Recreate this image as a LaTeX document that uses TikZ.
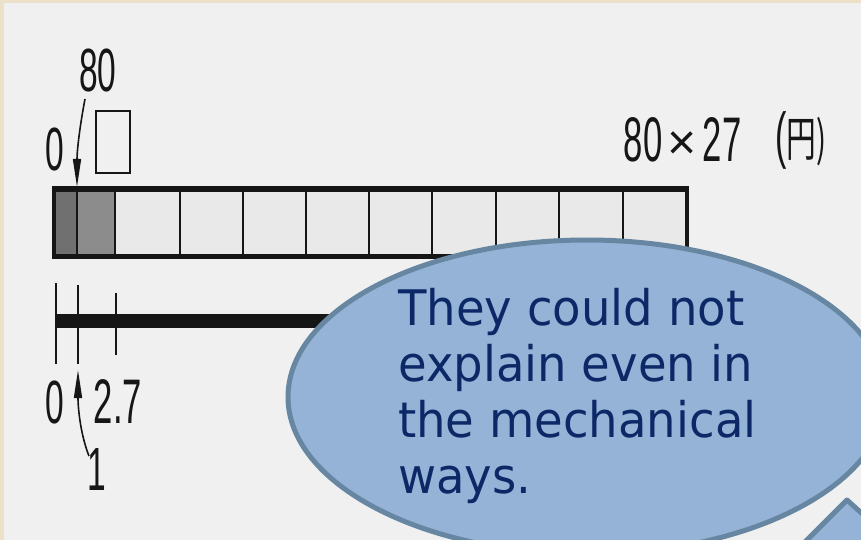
\documentclass[tikz,border=0pt]{standalone}
\usepackage{fontspec}
\setmainfont{Liberation Sans}
\newfontfamily\callfont[FakeStretch=0.95]{DejaVu Sans}
\newfontfamily\scanfont[FakeStretch=0.55]{Liberation Sans}
\newfontfamily\cjkfont[FakeStretch=0.62]{Noto Sans CJK JP}
\usetikzlibrary{arrows.meta,shapes.geometric}
\definecolor{beige}{RGB}{236,224,200}
\definecolor{paper}{RGB}{240,240,240}
\definecolor{inkblack}{RGB}{22,22,22}
\definecolor{darkcell}{RGB}{112,112,112}
\definecolor{midcell}{RGB}{140,140,140}
\definecolor{lightcell}{RGB}{233,233,233}
\definecolor{callfill}{RGB}{149,179,215}
\definecolor{calledge}{RGB}{102,134,162}
\definecolor{navy}{RGB}{12,40,102}
\begin{document}
\begin{tikzpicture}[x=1pt,y=-1pt,
  scan/.style={font=\scanfont\fontsize{61}{61}\selectfont, inner sep=0pt, anchor=base, text=inkblack},
  scanbig/.style={scan, font=\scanfont\fontsize{63}{63}\selectfont},
  calltext/.style={font=\callfont\fontsize{49}{56}\selectfont, text=navy, inner sep=0pt, anchor=base west},
  calloutshape/.style={fill=callfill, draw=calledge, line width=5pt, line join=round},
  inkline/.style={draw=inkblack, line width=2.5pt},
  pointer/.style={draw=inkblack, line width=1.6pt, -{Triangle[length=28pt,width=8pt]}},
]
\useasboundingbox (0,0) rectangle (861,540);
\clip (0,0) rectangle (861,540);
% paper
\fill[beige] (0,0) rectangle (861,540);
\fill[paper] (4,3) rectangle (861,540);

% upper tape diagram
\fill[darkcell] (54,188) rectangle (77,257);
\fill[midcell] (77,188) rectangle (115,257);
\fill[lightcell] (115,188) rectangle (687,257);
\foreach \x in {77,115,180,243,306,369,432,496,559,623}
  \draw[inkline, line width=2pt] (\x,188) -- (\x,257);
\draw[inkline, line width=3.5pt] (54,188) rectangle (687,257);
\draw[inkline, line width=5pt] (52,189) -- (689,189);
\draw[inkline, line width=5pt] (52,256) -- (689,256);

% labels above
\node[scan] (eighty) at (98,92) {80};
\node[scan] (zeroTop) at (55,171) {0};
\draw[inkline] (96,111) rectangle (130,173);
\coordinate (a1s) at (85,99);
\coordinate (a1e) at (77,187);
\draw[pointer] (a1s) .. controls (80,125) and (77,150) .. (a1e);

\node[scanbig] (n80) at (643,162) {80};
\node[scan, font=\fontsize{50}{50}\selectfont] (times) at (682,160) {×};
\node[scanbig] (n27) at (722,162) {27};
\node[scan, font=\scanfont\fontsize{62}{62}\selectfont] (yen) at (801,157) {(\cjkfont\fontsize{48}{48}\selectfont 円)};

% lower number line
\draw[draw=inkblack, line width=14pt] (56,321) -- (430,321);
\draw[inkline] (56,283) -- (56,364);
\draw[inkline] (78,285) -- (78,364);
\draw[inkline] (116,293) -- (116,355);
\node[scan] (zeroBot) at (55,423) {0};
\node[scanbig] (twoseven) at (118,423) {2.7};
\node[scan] (one) at (97,490) {1};
\coordinate (a2s) at (89,456);
\coordinate (a2e) at (78,370);
\draw[pointer] (a2s) .. controls (81,436) and (78,410) .. (a2e);

% callout
\coordinate (tailtip) at (847,500);
\draw[calloutshape] (tailtip) -- (790,557) -- (910,557) -- cycle;
\node[calloutshape, ellipse, inner sep=0pt, minimum width=598pt, minimum height=314pt] (callout) at (587,397) {};
\node[calltext] (t1) at (398,325) {They could not};
\node[calltext] (t2) at (398,381) {explain even in};
\node[calltext] (t3) at (398,437) {the mechanical};
\node[calltext] (t4) at (398,493) {ways.};
\end{tikzpicture}
\end{document}
